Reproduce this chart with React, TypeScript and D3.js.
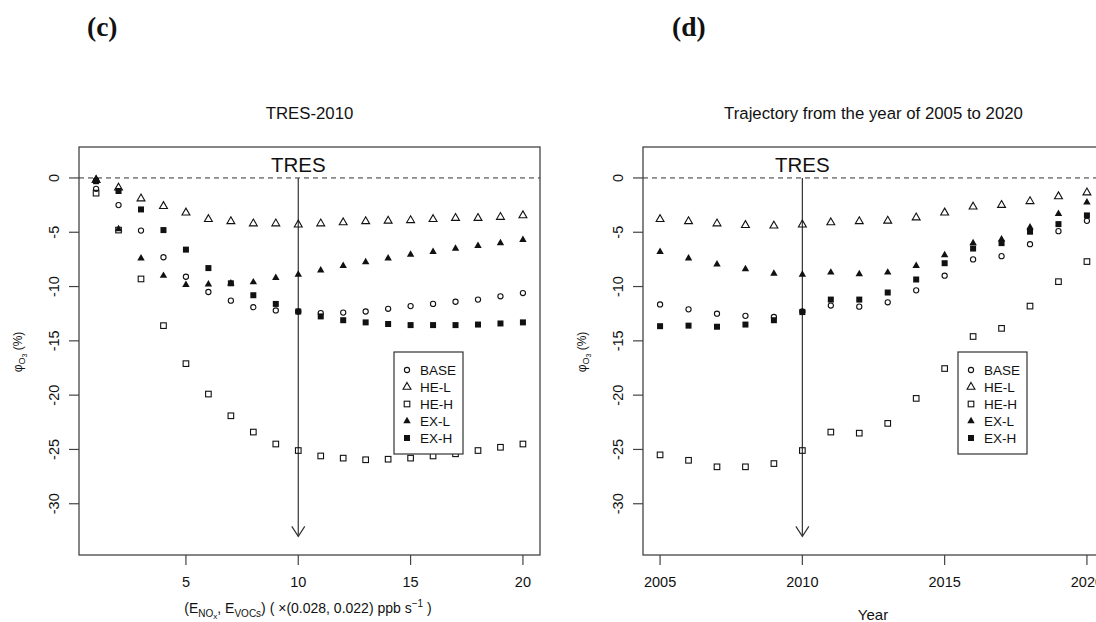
import React from 'react';
import * as d3 from 'd3';

const WIDTH = 1096;
const HEIGHT = 622;
const TOP = 147;
const BOTTOM = 555;
const INK = '#111';
const FONT = '"Liberation Sans", Arial, sans-serif';

// panel (c): emission scaling factor 1..20
const FACTORS = [1, 2, 3, 4, 5, 6, 7, 8, 9, 10, 11, 12, 13, 14, 15, 16, 17, 18, 19, 20];
const BASE_C = [-1.0, -2.5, -4.85, -7.3, -9.1, -10.5, -11.3, -11.9, -12.2, -12.3, -12.45, -12.4, -12.3, -12.05, -11.8, -11.6, -11.4, -11.2, -10.9, -10.6];
const HEL_C = [-0.2, -0.9, -1.9, -2.6, -3.2, -3.8, -4.0, -4.2, -4.2, -4.3, -4.2, -4.1, -4.0, -3.95, -3.9, -3.8, -3.7, -3.7, -3.6, -3.45];
const HEH_C = [-1.4, -4.8, -9.3, -13.6, -17.1, -19.9, -21.9, -23.4, -24.5, -25.1, -25.6, -25.8, -25.95, -25.9, -25.8, -25.6, -25.4, -25.1, -24.8, -24.5];
const EXL_C = [-0.1, -4.7, -7.4, -9.0, -9.85, -9.8, -9.7, -9.6, -9.2, -8.9, -8.5, -8.1, -7.75, -7.4, -7.05, -6.8, -6.5, -6.25, -6.0, -5.7];
const EXH_C = [-0.3, -1.2, -2.9, -4.8, -6.6, -8.3, -9.7, -10.8, -11.6, -12.3, -12.75, -13.1, -13.3, -13.45, -13.55, -13.55, -13.55, -13.5, -13.4, -13.3];

// panel (d): years 2005..2020
const YEARS = [2005, 2006, 2007, 2008, 2009, 2010, 2011, 2012, 2013, 2014, 2015, 2016, 2017, 2018, 2019, 2020];
const BASE_D = [-11.65, -12.1, -12.5, -12.7, -12.8, -12.3, -11.75, -11.85, -11.45, -10.35, -9.0, -7.5, -7.2, -6.1, -4.9, -3.95];
const HEL_D = [-3.8, -4.0, -4.2, -4.35, -4.4, -4.3, -4.1, -4.0, -3.95, -3.65, -3.2, -2.65, -2.5, -2.15, -1.7, -1.35];
const HEH_D = [-25.5, -26.0, -26.6, -26.6, -26.3, -25.1, -23.4, -23.5, -22.6, -20.3, -17.55, -14.6, -13.85, -11.8, -9.55, -7.7];
const EXL_D = [-6.8, -7.4, -7.95, -8.4, -8.8, -8.9, -8.7, -8.85, -8.7, -8.1, -7.1, -6.0, -5.65, -4.55, -3.3, -2.25];
const EXH_D = [-13.65, -13.6, -13.7, -13.5, -13.1, -12.35, -11.2, -11.2, -10.55, -9.35, -7.85, -6.5, -6.0, -4.95, -4.25, -3.45];

const SERIES_NAMES = ['BASE', 'HE-L', 'HE-H', 'EX-L', 'EX-H'];
const SERIES_MARKS = ['circle', 'tri', 'sq', 'triF', 'sqF'];
const Y_TICKS = [0, -5, -10, -15, -20, -25, -30];
const C_TICKS = [5, 10, 15, 20];
const D_TICKS = [2005, 2010, 2015, 2020];
const ARROW_END = -33;

const yScale = d3.scaleLinear().domain([-34.72, 2.85]).range([BOTTOM, TOP]);

const triOpen = d3.symbol(d3.symbolTriangle, 27)() ?? '';
const triFill = d3.symbol(d3.symbolTriangle, 24)() ?? '';

function Mark({ kind, x, y }: { kind: string; x: number; y: number }) {
  const t = `translate(${x},${y})`;
  if (kind === 'circle') return <circle cx={x} cy={y} r={2.6} fill="white" fillOpacity={0} stroke={INK} strokeWidth={1.1} />;
  if (kind === 'tri') return <path transform={t} d={triOpen} fill="none" stroke={INK} strokeWidth={1.1} />;
  if (kind === 'triF') return <path transform={t} d={triFill} fill={INK} />;
  if (kind === 'sq') return <rect x={x - 2.8} y={y - 2.8} width={5.6} height={5.6} fill="none" stroke={INK} strokeWidth={1.1} />;
  return <rect x={x - 3} y={y - 3} width={6} height={6} fill={INK} />;
}

type PanelProps = {
  left: number;
  right: number;
  domain: [number, number];
  xs: number[];
  series: number[][];
  ticks: number[];
  tres: number;
  title: string;
  xLabel: React.ReactNode;
};

function Panel({ left, right, domain, xs, series, ticks, tres, title, xLabel }: PanelProps) {
  const x = d3.scaleLinear().domain(domain).range([left, right]);
  const y0 = yScale(0);
  const yEnd = yScale(ARROW_END);
  const ax = x(tres);
  const lgLeft = left + 315;
  const lgTop = 352;
  return (
    <g>
      <text x={(left + right) / 2} y={119} textAnchor="middle" fontSize={16.8} fill={INK}>{title}</text>
      <rect x={left} y={TOP} width={right - left} height={BOTTOM - TOP} fill="none" stroke="#444" strokeWidth={1.3} />
      <line x1={left} x2={right} y1={y0} y2={y0} stroke="#333" strokeDasharray="5 4" />
      {/* y axis */}
      {Y_TICKS.map((t) => (
        <g key={`y${t}`}>
          <line x1={left - 10} x2={left} y1={yScale(t)} y2={yScale(t)} stroke="#444" strokeWidth={1.2} />
          <text transform={`translate(${left - 20},${yScale(t)}) rotate(-90)`} textAnchor="middle" fontSize={14.5} fill={INK}>{t}</text>
        </g>
      ))}
      <text transform={`translate(${left - 57},352) rotate(-90)`} textAnchor="middle" fontSize={12} fill={INK}>
        φ<tspan dy={3} fontSize={9}>O</tspan><tspan dy={2} fontSize={7}>3</tspan><tspan dy={-5} fontSize={12}> (%)</tspan>
      </text>
      {/* x axis */}
      {ticks.map((t) => (
        <g key={`x${t}`}>
          <line x1={x(t)} x2={x(t)} y1={BOTTOM} y2={BOTTOM + 10} stroke="#444" strokeWidth={1.2} />
          <text x={x(t)} y={587} textAnchor="middle" fontSize={14.5} fill={INK}>{t}</text>
        </g>
      ))}
      {xLabel}
      {/* TRES marker */}
      <text x={ax} y={172} textAnchor="middle" fontSize={20.5} fill={INK}>TRES</text>
      <line x1={ax} x2={ax} y1={y0} y2={yEnd} stroke="#333" strokeWidth={1.2} />
      <polyline points={`${ax - 6.5},${yEnd - 10} ${ax},${yEnd} ${ax + 6.5},${yEnd - 10}`} fill="none" stroke="#333" strokeWidth={1.2} />
      {/* points */}
      {series.map((vals, si) =>
        vals.map((v, i) => <Mark key={`${si}-${i}`} kind={SERIES_MARKS[si]} x={x(xs[i])} y={yScale(v)} />)
      )}
      {/* legend */}
      <rect x={lgLeft} y={lgTop} width={69} height={102} fill="white" stroke="#333" strokeWidth={1.2} />
      {SERIES_NAMES.map((name, i) => {
        const cy = lgTop + 18 + i * 17;
        return (
          <g key={name}>
            <Mark kind={SERIES_MARKS[i]} x={lgLeft + 13} y={cy} />
            <text x={lgLeft + 26} y={cy + 5} fontSize={13.5} fill={INK}>{name}</text>
          </g>
        );
      })}
    </g>
  );
}

export default function App() {
  return (
    <svg
      width={WIDTH}
      height={HEIGHT}
      viewBox={`0 0 ${WIDTH} ${HEIGHT}`}
      style={{ position: 'absolute', left: 0, top: 0, background: 'white', fontFamily: FONT }}
    >
      <rect width={WIDTH} height={HEIGHT} fill="white" />
      <text x={87} y={36} fontFamily='"Liberation Serif", "Times New Roman", serif' fontWeight="bold" fontSize={27.5} fill={INK}>(c)</text>
      <text x={672} y={36} fontFamily='"Liberation Serif", "Times New Roman", serif' fontWeight="bold" fontSize={27.5} fill={INK}>(d)</text>
      <Panel
        left={79}
        right={540}
        domain={[0.24, 20.76]}
        xs={FACTORS}
        series={[BASE_C, HEL_C, HEH_C, EXL_C, EXH_C]}
        ticks={C_TICKS}
        tres={10}
        title="TRES-2010"
        xLabel={
          <text x={308} y={613} textAnchor="middle" fontSize={14} fill={INK}>
            (E<tspan dy={4} fontSize={10}>NO</tspan><tspan dy={2} fontSize={8}>x</tspan>
            <tspan dy={-6} fontSize={14}>, E</tspan><tspan dy={4} fontSize={10}>VOCs</tspan>
            <tspan dy={-4} fontSize={14}>)  ( ×(0.028, 0.022) ppb s</tspan>
            <tspan dy={-6} fontSize={10}>−1</tspan><tspan dy={6} fontSize={14}> )</tspan>
          </text>
        }
      />
      <Panel
        left={643}
        right={1104}
        domain={[2004.4, 2020.6]}
        xs={YEARS}
        series={[BASE_D, HEL_D, HEH_D, EXL_D, EXH_D]}
        ticks={D_TICKS}
        tres={2010}
        title="Trajectory from the year of 2005 to 2020"
        xLabel={<text x={873} y={620} textAnchor="middle" fontSize={15} fill={INK}>Year</text>}
      />
    </svg>
  );
}
